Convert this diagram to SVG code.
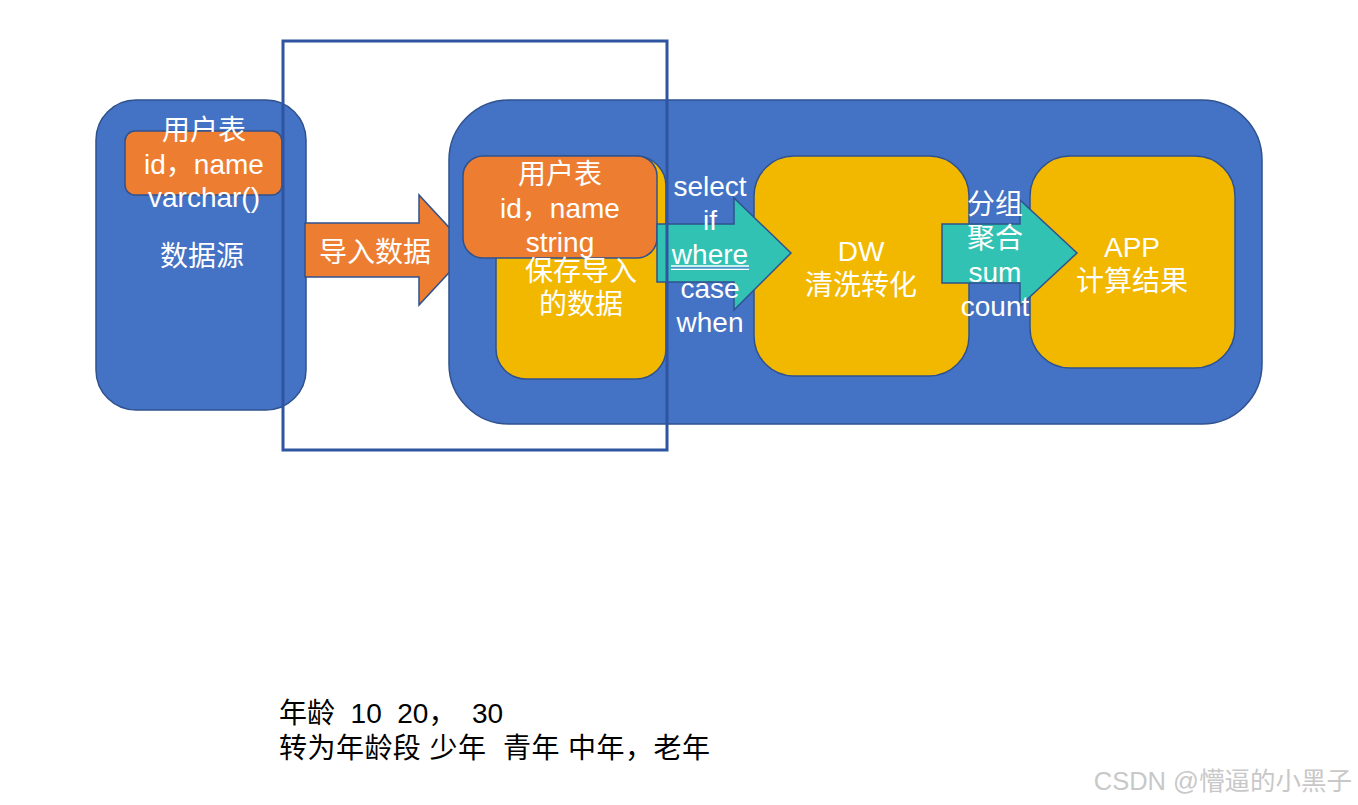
<svg xmlns="http://www.w3.org/2000/svg" width="1358" height="805" viewBox="0 0 1358 805">
<style>
.blue{fill:#4472C4;stroke:#2F528F;stroke-width:1.5}
.orange{fill:#ED7D31;stroke:#2F528F;stroke-width:1.5}
.gold{fill:#F2B800;stroke:#2F528F;stroke-width:1.5}
.teal{fill:#31C2B3;stroke:#2F528F;stroke-width:1.5}
.t{font-family:"Liberation Sans","Noto Sans CJK SC",sans-serif;font-size:28px;fill:#fff;text-anchor:middle}
.b{font-family:"Liberation Sans","Noto Sans CJK SC",sans-serif;font-size:28px;fill:#000;white-space:pre}
.wm{font-family:"Liberation Sans","Noto Sans CJK SC",sans-serif;font-size:25.5px;fill:#c8c8c8;text-anchor:end}
</style>
<rect width="1358" height="805" fill="#fff"/>
<g id="source">
<rect class="blue" x="96" y="100" width="210" height="310" rx="40"/>
<rect class="orange" x="125" y="131" width="157" height="64" rx="10"/>
<text class="t" x="204" y="140">用户表</text>
<text class="t" x="204" y="174">id，name</text>
<text class="t" x="204" y="207">varchar()</text>
<text class="t" x="202" y="266">数据源</text>
</g>
<g id="connectors">
<polygon class="orange" points="305,223 419,223 419,195 470,250 419,305 419,277 305,277"/>
<text class="t" x="375" y="262">导入数据</text>
</g>
<g id="warehouse">
<rect class="blue" x="449" y="100" width="813" height="324" rx="60"/>
</g>
<g id="ods">
<rect class="gold" x="496" y="156" width="170" height="223" rx="30"/>
<rect class="orange" x="463" y="156" width="194" height="102" rx="20"/>
<text class="t" x="560" y="184">用户表</text>
<text class="t" x="560" y="218">id，name</text>
<text class="t" x="560" y="252">string</text>
<text class="t" x="581" y="281">保存导入</text>
<text class="t" x="581" y="314">的数据</text>
</g>
<g id="dw">
<rect class="gold" x="754" y="156" width="215" height="220" rx="40"/>
<text class="t" x="861" y="261">DW</text>
<text class="t" x="861" y="295">清洗转化</text>
</g>
<g id="app">
<rect class="gold" x="1030" y="156" width="205" height="212" rx="40"/>
<text class="t" x="1132" y="257">APP</text>
<text class="t" x="1132" y="291">计算结果</text>
</g>
<g id="connectors2">
<polygon class="teal" points="657,224 734,224 734,198 791,253 734,310 734,282 657,282"/>
<polygon class="teal" points="942,224 1020,224 1020,200 1077,253 1020,306 1020,283 942,283"/>
<text class="t" x="710" y="196">select</text>
<text class="t" x="710" y="230">if</text>
<text class="t" x="710" y="264">where</text>
<line x1="671" y1="266" x2="749" y2="266" stroke="#fff" stroke-width="1.5"/>
<line x1="671" y1="267.8" x2="749" y2="267.8" stroke="#4F81D9" stroke-width="1.2"/>
<line x1="671" y1="269.4" x2="749" y2="269.4" stroke="#fff" stroke-width="1.2"/>
<text class="t" x="710" y="298">case</text>
<text class="t" x="710" y="332">when</text>
<text class="t" x="995" y="214">分组</text>
<text class="t" x="995" y="248">聚合</text>
<text class="t" x="995" y="282">sum</text>
<text class="t" x="995" y="316">count</text>
</g>
<g id="frame">
<rect x="283" y="41" width="384" height="409" fill="none" stroke="#2F55A0" stroke-width="3"/>
</g>
<g id="notes">
<text class="b" x="279" y="723">年龄  10  20，  30</text>
<text class="b" x="279" y="758" textLength="431">转为年龄段 少年  青年 中年，老年</text>
</g>
<text class="wm" x="1352" y="790">CSDN @懵逼的小黑子</text>
</svg>
